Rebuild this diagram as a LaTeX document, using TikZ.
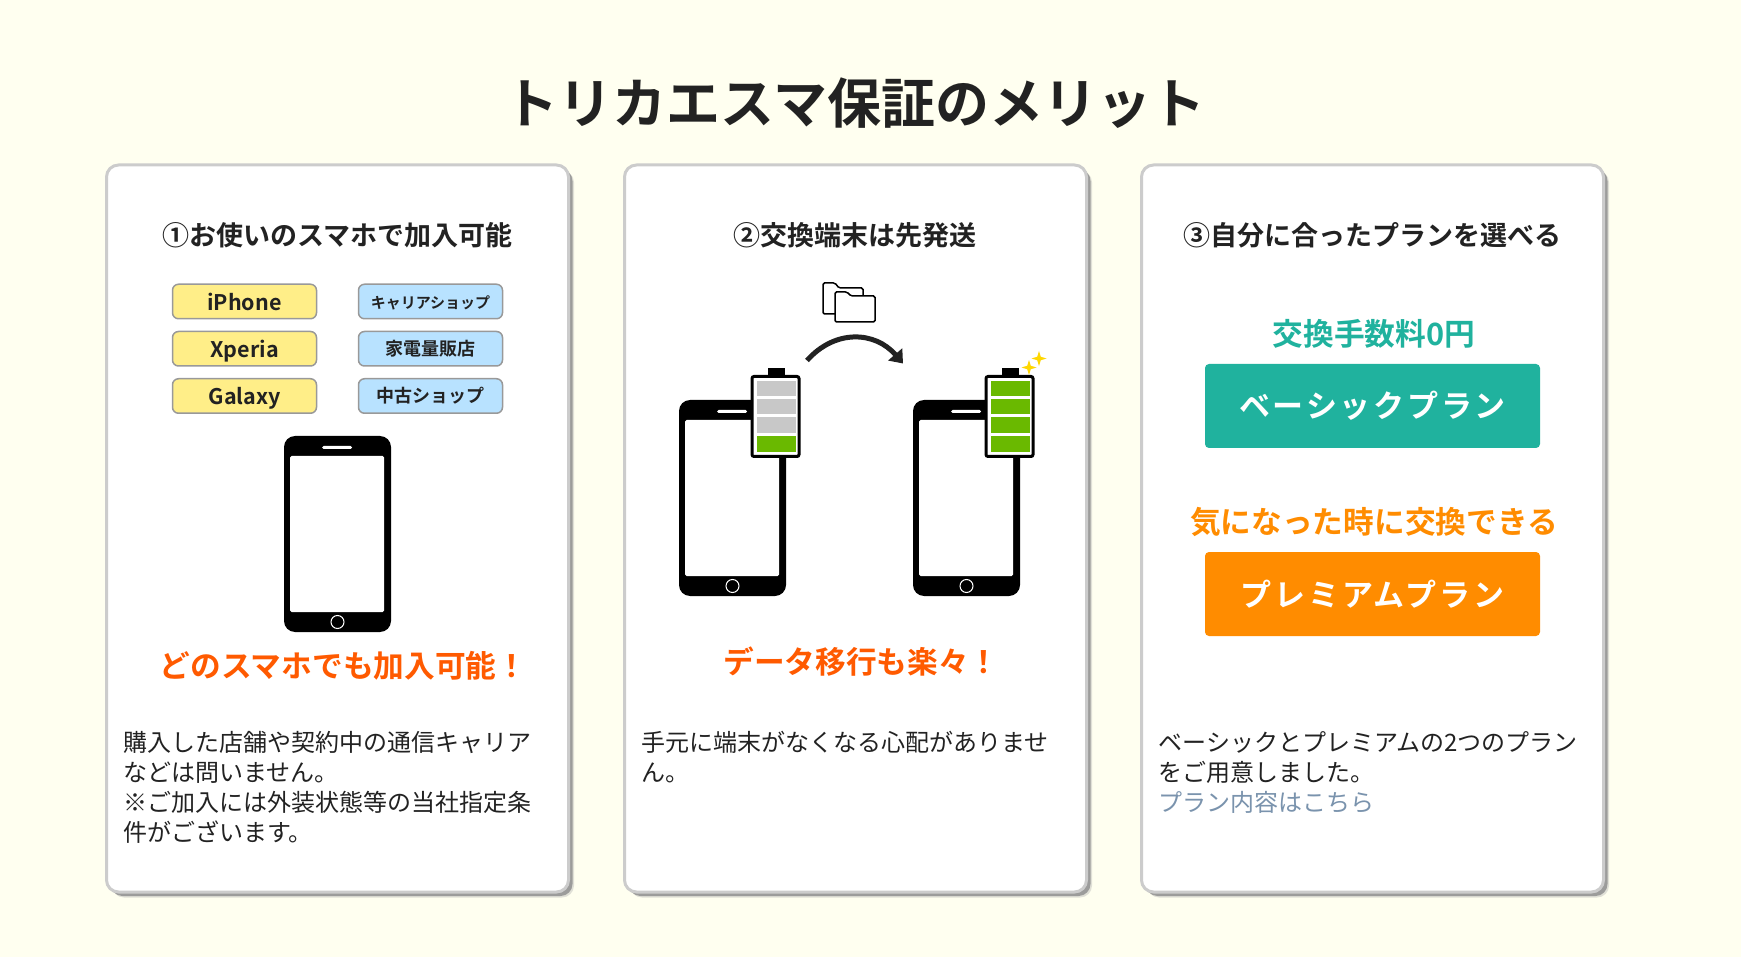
\documentclass[tikz,border=0pt]{standalone}
\usepackage{fontspec}
\setmainfont{Noto Sans CJK JP}
\newfontfamily\jpbold{Noto Sans CJK JP Bold}
\newfontfamily\jpwide[LetterSpace=9]{Noto Sans CJK JP Bold}
\usetikzlibrary{shadows,shapes.geometric,arrows.meta}
\definecolor{pagebg}{HTML}{FFFFF0}
\definecolor{inkdark}{HTML}{222222}
\definecolor{cardline}{HTML}{CCCCCC}
\definecolor{tagyellow}{HTML}{FFEE88}
\definecolor{tagblue}{HTML}{B8E2FF}
\definecolor{taglink}{HTML}{7A93AD}
\definecolor{cellgray}{HTML}{C8C8C8}
\definecolor{cellgreen}{HTML}{6AB900}
\definecolor{sparkgold}{HTML}{FFD700}
\definecolor{hotorange}{HTML}{FF5A00}
\definecolor{planteal}{HTML}{20B29E}
\definecolor{planorange}{HTML}{FF8C00}
\tikzstyle{card} = [rectangle, draw=cardline, line width=3pt, fill=white, rounded corners=12pt, minimum width=462pt, minimum height=727pt, drop shadow={shadow xshift=5.5pt, shadow yshift=-5.5pt, fill=black!30, opacity=.4}, drop shadow={shadow xshift=4pt, shadow yshift=-4pt, fill=black!45, opacity=.8}]
\tikzstyle{tag} = [rectangle, draw=black!40, line width=1.5pt, rounded corners=6pt, text=inkdark, inner sep=0pt, minimum width=144pt, minimum height=34.5pt]
\tikzstyle{tagy} = [tag, fill=tagyellow, text height=22pt, text depth=4pt, font=\jpbold\fontsize{21.5}{21.5}\selectfont]
\tikzstyle{tagb} = [tag, fill=tagblue, text height=19pt, text depth=5pt, font=\jpbold\fontsize{18}{18}\selectfont]
\tikzstyle{heading} = [text=inkdark, inner sep=0pt, font=\jpbold\fontsize{27}{27}\selectfont]
\tikzstyle{catch} = [inner sep=0pt, font=\jpbold\fontsize{30.7}{30.7}\selectfont]
\tikzstyle{plan} = [rectangle, rounded corners=4pt, text=white, inner sep=0pt, minimum width=335pt, minimum height=84pt, font=\jpwide\fontsize{31}{31}\selectfont]
\tikzstyle{bodytext} = [text=inkdark, inner sep=0pt, anchor=north west, align=left, font=\fontsize{24}{30}\selectfont]
\tikzstyle{sparkle} = [star, star points=4, star point ratio=3, fill=sparkgold, inner sep=0pt, minimum size=15pt]
\tikzset{
  pics/phone/.style={code={
    \fill[black, rounded corners=11pt] (0,0) rectangle (107,196);
    \fill[white, rounded corners=1.5pt] (6,20) rectangle (100,176);
    \fill[white, rounded corners=1.5pt] (38,10) rectangle (68,13);
    \draw[white, line width=1pt] (53.5,186) circle[radius=6.5pt];
  }},
  pics/battery/.style={code={
    \fill[black] (17,-7) rectangle (34,1);
    \draw[black, fill=white, line width=3pt, rounded corners=2pt] (1.5,1.5) rectangle (48.5,81.5);
    \foreach \ya/\yb in {6/21,24/39,42/58} {
      \fill[#1] (6,\ya) rectangle (45,\yb);
    }
    \fill[cellgreen] (6,61) rectangle (45,77);
  }}
}

\begin{document}
\begin{tikzpicture}[x=1pt, y=-1pt]
	\useasboundingbox (0,0) rectangle (1741,957);
	\fill[pagebg] (0,0) rectangle (1741,957);
	\node[text=inkdark, inner sep=0pt, font=\jpbold\fontsize{54}{54}\selectfont] (title) at (855,103) {トリカエスマ保証のメリット};

	\node[card] (card1) at (337.5,528.5) {};
	\node[card, right of=card1, node distance=518pt] (card2) {};
	\node[card, right of=card2, node distance=517pt] (card3) {};

	% first card
	\node[heading] (head1) at (337.5,235.5) {①お使いのスマホで加入可能};
	\node[tagy] (iphone) at (244.5,301.5) {iPhone};
	\node[tagy, below of=iphone, node distance=47.25pt] (xperia) {Xperia};
	\node[tagy, below of=xperia, node distance=47.25pt] (galaxy) {Galaxy};
	\node[tagb, right of=iphone, node distance=186pt, font=\jpbold\fontsize{15}{15}\selectfont] (carrier) {キャリアショップ};
	\node[tagb, right of=xperia, node distance=186pt] (kaden) {家電量販店};
	\node[tagb, right of=galaxy, node distance=186pt] (chuko) {中古ショップ};
	\pic at (284,436) {phone};
	\node[catch, text=hotorange] (catch1) at (343.5,666) {どのスマホでも加入可能！};
	\node[bodytext] (body1) at (123,731.5) {購入した店舗や契約中の通信キャリア\\などは問いません。\\※ご加入には外装状態等の当社指定条\\件がございます。};

	% second card
	\node[heading] (head2) at (855,235.5) {②交換端末は先発送};
	\draw[black, line width=1.5pt, rounded corners=1.5pt] (823,314) -- (823,283) -- (835,283) -- (839,288) -- (863,288) -- (863,314) -- cycle;
	\draw[black, fill=white, line width=1.5pt, rounded corners=1.5pt] (835,322) -- (835,292) -- (847,292) -- (851,296) -- (875,296) -- (875,322) -- cycle;
	\coordinate (arrowfrom) at (807,360.5);
	\coordinate (arrowto) at (903,363.5);
	\draw[inkdark, line width=5pt, -{Triangle[length=12pt, width=18pt]}] (arrowfrom) .. controls (835,329) and (875,331) .. (arrowto);
	\coordinate (phoneold) at (679,400);
	\coordinate[right of=phoneold, node distance=234pt] (phonenew);
	\coordinate (battold) at (750.5,375);
	\coordinate[right of=battold, node distance=234pt] (battnew);
	\pic at (phoneold) {phone};
	\pic at (phonenew) {phone};
	\pic at (battold) {battery=cellgray};
	\pic at (battnew) {battery=cellgreen};
	\node[sparkle] (spark1) at (1029,367.5) {};
	\node[sparkle] (spark2) at (1039,358.5) {};
	\node[catch, text=hotorange] (catch2) at (861.5,662) {データ移行も楽々！};
	\node[bodytext] (body2) at (641,731) {手元に端末がなくなる心配がありませ\\ん。};

	% third card
	\node[heading] (head3) at (1372,235.5) {③自分に合ったプランを選べる};
	\node[catch, text=planteal] (catch3) at (1374,334) {交換手数料0円};
	\node[plan, fill=planteal] (basic) at (1372.5,406) {ベーシックプラン};
	\node[catch, text=planorange] (catch4) at (1374,522) {気になった時に交換できる};
	\node[plan, fill=planorange, below of=basic, node distance=188pt] (premium) {プレミアムプラン};
	\node[bodytext] (body3) at (1158.5,731.5) {ベーシックとプレミアムの2つのプラン\\をご用意しました。\\\textcolor{taglink}{プラン内容はこちら}};
\end{tikzpicture}
\end{document}
